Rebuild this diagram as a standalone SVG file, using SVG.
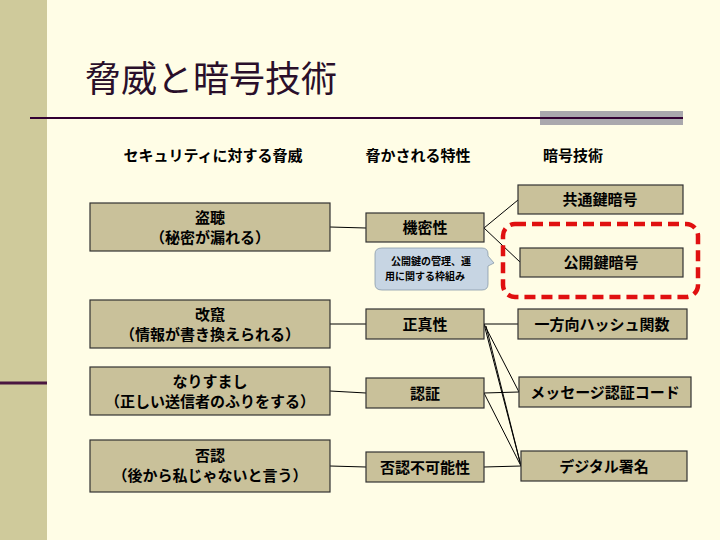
<svg xmlns="http://www.w3.org/2000/svg" width="720" height="540" viewBox="0 0 720 540">
<style>
.b{fill:#c9c19a;stroke:#333;stroke-width:1.2}
.t{font-family:"Noto Sans CJK JP",sans-serif;font-weight:bold;font-size:15px;fill:#000;text-anchor:middle}
.c{stroke:#000;stroke-width:1;fill:none}
</style>
<rect width="720" height="540" fill="#fffde6"/>
<rect x="0" y="0" width="47" height="540" fill="#cfca9b"/>
<line x1="0" y1="383" x2="47" y2="383" stroke="#4a1640" stroke-width="3"/>
<text x="85" y="92" font-family="Noto Sans CJK JP,sans-serif" font-size="36" fill="#2a0f2a">脅威と暗号技術</text>
<rect x="540" y="111" width="143" height="14" fill="#aaa8ad"/>
<line x1="30" y1="118" x2="683" y2="118" stroke="#330033" stroke-width="2"/>
<text class="t" x="213" y="161">セキュリティに対する脅威</text>
<text class="t" x="418" y="161">脅かされる特性</text>
<text class="t" x="573" y="161">暗号技術</text>
<g id="connectors" class="c">
<line x1="330" y1="227" x2="366" y2="228"/>
<line x1="330" y1="324" x2="366" y2="324"/>
<line x1="330" y1="391" x2="366" y2="393"/>
<line x1="330" y1="466" x2="366" y2="467"/>
<line x1="484" y1="228" x2="518" y2="200"/>
<line x1="484" y1="228" x2="520" y2="262"/>
<line x1="484" y1="324" x2="518" y2="324"/>
<line x1="484" y1="324" x2="519" y2="392"/>
<line x1="484" y1="324" x2="521" y2="466"/>
<line x1="486" y1="326" x2="521" y2="466"/>
<line x1="484" y1="393" x2="519" y2="392"/>
<line x1="484" y1="393" x2="521" y2="466"/>
<line x1="484" y1="467" x2="521" y2="466"/>
</g>
<g id="n1"><rect class="b" x="90" y="203" width="240" height="48"/><text class="t" x="210" y="223">盗聴</text><text class="t" x="210" y="243">（秘密が漏れる）</text></g>
<g id="n2"><rect class="b" x="90" y="300" width="240" height="48"/><text class="t" x="210" y="320">改竄</text><text class="t" x="210" y="340">（情報が書き換えられる）</text></g>
<g id="n3"><rect class="b" x="90" y="367" width="240" height="48"/><text class="t" x="210" y="387">なりすまし</text><text class="t" x="210" y="407">（正しい送信者のふりをする）</text></g>
<g id="n4"><rect class="b" x="90" y="440" width="240" height="52"/><text class="t" x="210" y="461">否認</text><text class="t" x="210" y="481">（後から私じゃないと言う）</text></g>
<g id="m1"><rect class="b" x="366" y="213" width="118" height="29"/><text class="t" x="425" y="233">機密性</text></g>
<g id="m2"><rect class="b" x="366" y="309" width="118" height="30"/><text class="t" x="425" y="330">正真性</text></g>
<g id="m3"><rect class="b" x="366" y="378" width="118" height="30"/><text class="t" x="425" y="399">認証</text></g>
<g id="m4"><rect class="b" x="366" y="452" width="118" height="30"/><text class="t" x="425" y="473">否認不可能性</text></g>
<g id="r1"><rect class="b" x="518" y="185" width="165" height="29"/><text class="t" x="600" y="205">共通鍵暗号</text></g>
<g id="r2"><rect class="b" x="520" y="248" width="163" height="29"/><text class="t" x="601" y="268">公開鍵暗号</text></g>
<g id="r3"><rect class="b" x="518" y="309" width="169" height="30"/><text class="t" x="602" y="330">一方向ハッシュ関数</text></g>
<g id="r4"><rect class="b" x="519" y="377" width="172" height="30"/><text class="t" x="605" y="398">メッセージ認証コード</text></g>
<g id="r5"><rect class="b" x="521" y="451" width="166" height="30"/><text class="t" x="604" y="472">デジタル署名</text></g>
<g id="highlight"><rect x="503" y="224" width="195" height="73" rx="12" fill="none" stroke="#e01010" stroke-width="4.5" stroke-dasharray="11 6"/></g>
<g id="callout">
<path d="M382,248 H482 Q488,248 488,254 V256 L494,263 L488,266 V284 Q488,290 482,290 H382 Q375,290 375,284 V254 Q375,248 382,248 Z" fill="#c7d5e3" stroke="#8899aa" stroke-width="0.8"/>
<text font-family="Noto Sans CJK JP,sans-serif" font-weight="bold" font-size="10" x="431" y="265" text-anchor="middle">公開鍵の管理、運</text>
<text font-family="Noto Sans CJK JP,sans-serif" font-weight="bold" font-size="10" x="425" y="280" text-anchor="middle">用に関する枠組み</text>
</g>
</svg>
